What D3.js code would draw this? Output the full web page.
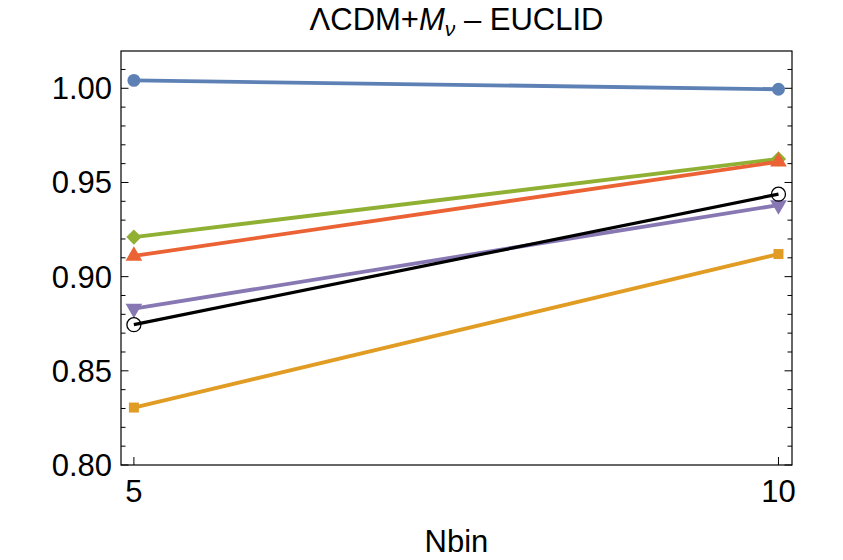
<!DOCTYPE html>
<html>
<head>
<meta charset="utf-8">
<script src="https://cdn.jsdelivr.net/npm/d3@7"></script>
<style>
  body { margin: 0; background: #fff; }
  svg text { font-family: "Liberation Sans", Arial, sans-serif; fill: #000; }
</style>
</head>
<body>
<svg id="chart" width="843" height="560"></svg>
<script>
// data
var nbin = [5, 10];
var blueVals   = [1.0042, 0.9995];
var greenVals  = [0.921, 0.9625];
var redVals    = [0.911, 0.961];
var purpleVals = [0.883, 0.938];
var blackVals  = [0.8745, 0.9438];
var orangeVals = [0.8305, 0.912];
var yTicks = [0.80, 0.85, 0.90, 0.95, 1.00];

var series = [
    {vals: blueVals,   color: "#5e81b5", marker: "circle"},
    {vals: orangeVals, color: "#e19c24", marker: "square"},
    {vals: greenVals,  color: "#8fb032", marker: "diamond"},
    {vals: redVals,    color: "#eb6235", marker: "triangleUp"},
    {vals: purpleVals, color: "#8778b3", marker: "triangleDown"},
    {vals: blackVals,  color: "#000000", marker: "open"}
];

var plotL = 121, plotR = 792, plotT = 51, plotB = 465;
var svg = d3.select("#chart");

var x = d3.scaleLinear().domain([4.9, 10.105]).range([plotL, plotR]);
var y = d3.scaleLinear().domain([0.80, 1.0198]).range([plotB, plotT]);

// frame
svg.append("rect")
    .attr("x", plotL).attr("y", plotT)
    .attr("width", plotR - plotL).attr("height", plotB - plotT)
    .attr("fill", "none").attr("stroke", "#000").attr("stroke-width", 1.2);

// y ticks, major + minor, both sides, inward
var minor = d3.range(80, 102).map(function(d) { return d / 100; });
var tg = svg.append("g");
minor.forEach(function(v) {
    var isMajor = Math.round(v * 100) % 5 == 0;
    var len = isMajor ? 7.5 : 4.5;
    tg.append("line").attr("x1", plotL).attr("x2", plotL + len)
        .attr("y1", y(v)).attr("y2", y(v))
        .attr("stroke", "#000").attr("stroke-width", 1);
    tg.append("line").attr("x1", plotR).attr("x2", plotR - len)
        .attr("y1", y(v)).attr("y2", y(v))
        .attr("stroke", "#000").attr("stroke-width", 1);
});
yTicks.forEach(function(v) {
    svg.append("text")
        .attr("x", plotL - 9).attr("y", y(v) + 11)
        .attr("text-anchor", "end")
        .style("font-size", "31px")
        .text(d3.format(".2f")(v));
});

// x ticks
nbin.forEach(function(v) {
    svg.append("line").attr("x1", x(v)).attr("x2", x(v))
        .attr("y1", plotB).attr("y2", plotB - 8)
        .attr("stroke", "#000").attr("stroke-width", 1);
    svg.append("text")
        .attr("x", x(v)).attr("y", 502)
        .attr("text-anchor", "middle")
        .style("font-size", "31px")
        .text(v);
});

// lines
var line = d3.line()
    .x(function(d, i) { return x(nbin[i]); })
    .y(function(d) { return y(d); });

series.forEach(function(s) {
    svg.append("path")
        .datum(s.vals)
        .attr("d", line)
        .attr("fill", "none")
        .attr("stroke", s.color)
        .attr("stroke-width", s.marker == "open" ? 3.2 : 3.8);
});

// markers
var shapes = {
    circle: d3.symbol().type(d3.symbolCircle).size(130),
    square: d3.symbol().type(d3.symbolSquare).size(100),
    diamond: d3.symbol().type(d3.symbolSquare).size(115),
    triangleUp: d3.symbol().type(d3.symbolTriangle).size(120),
    triangleDown: d3.symbol().type(d3.symbolTriangle).size(120)
};
series.forEach(function(s) {
    s.vals.forEach(function(v, i) {
        var cx = x(nbin[i]), cy = y(v);
        if (s.marker == "open") {
            svg.append("circle").attr("cx", cx).attr("cy", cy).attr("r", 7)
                .attr("fill", "none")
                .attr("stroke", "#000").attr("stroke-width", 1.3);
            return;
        }
        var rot = s.marker == "triangleDown" ? 180 : (s.marker == "diamond" ? 45 : 0);
        svg.append("path")
            .attr("d", shapes[s.marker]())
            .attr("transform", "translate(" + cx + "," + cy + ") rotate(" + rot + ")")
            .attr("fill", s.color);
    });
});

// title
var title = svg.append("text")
    .attr("x", (plotL + plotR) / 2).attr("y", 30)
    .attr("text-anchor", "middle")
    .style("font-size", "31px");
title.append("tspan").text("\u039BCDM+");
title.append("tspan").style("font-style", "italic").text("M");
title.append("tspan").style("font-style", "italic").style("font-size", "21px").attr("dy", 6).text("\u03BD");
title.append("tspan").attr("dy", -6).text(" \u2013 EUCLID");

// x label
svg.append("text")
    .attr("x", (plotL + plotR) / 2).attr("y", 552)
    .attr("text-anchor", "middle")
    .style("font-size", "31px")
    .text("Nbin");
</script>
</body>
</html>
